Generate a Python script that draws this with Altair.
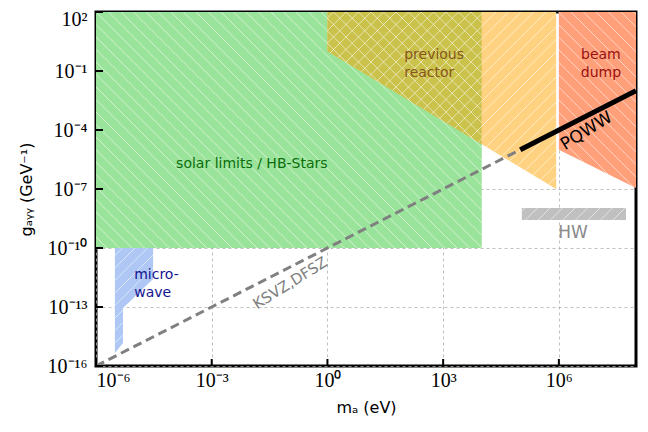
import math
import pandas as pd
import altair as alt

# ---------------- data (log10 units) ----------------
solar_x = [-6, 4]; solar_lo = [-10, -10]; solar_hi = [2, 2]
reactor_x = [0, 5.93]; reactor_lo = [0, -7.0]; reactor_hi = [2, 2]
overlap_x = [0, 4]; overlap_lo = [0, -4.72]; overlap_hi = [2, 2]
beam_x = [6, 8]; beam_lo = [-5.0, -6.95]; beam_hi = [2, 2]
mw_x = [-5.51, -5.30, -5.299, -4.52]; mw_lo = [-15.34, -14.83, -13.05, -11.57]; mw_hi = [-10, -10, -10, -10]
hw_x = [5.04, 7.74]; hw_lo = [-8.57, -8.57]; hw_hi = [-7.96, -7.96]

ksvz_m = [1e-6, 1e5]; ksvz_g = [1e-16, 1e-5]
pqww_m = [1e5, 1e8]; pqww_g = [1e-5, 1e-2]

x_ticks = [-6, -3, 0, 3, 6]
y_ticks = [2, -1, -4, -7, -10, -13, -16]

labels = [
    # text, logx, logy, color, size, angle, align
    ("solar limits / HB-Stars", -1.96, -5.73, "#0b6e0b", 14, 0, "center"),
    ("previous\nreactor", 1.99, -0.19, "#86561a", 14, 0, "left"),
    ("beam\ndump", 7.09, -0.19, "#9a0f0f", 14, 0, "center"),
    ("micro-\nwave", -5.01, -11.35, "#14148f", 14, 0, "left"),
    ("HW", 6.37, -9.24, "#8a8a8a", 17, 0, "center"),
    ("KSVZ,DFSZ", -0.97, -11.78, "#808080", 15, 328, "center"),
    ("PQWW", 6.72, -4.05, "#000000", 17, 328, "center"),
]

# ---------------- geometry helpers ----------------
W, H = 540, 354
XMIN, XMAX, YMIN, YMAX = -6, 8, -16, 2

def to_px(lx, ly):
    return ((lx - XMIN) / (XMAX - XMIN) * W, (YMAX - ly) / (YMAX - YMIN) * H)

def from_px(px, py):
    return (px / W * (XMAX - XMIN) + XMIN, YMAX - py / H * (YMAX - YMIN))

def polygon(xs, lo, hi):
    return [(x, y) for x, y in zip(xs, lo)] + [(x, y) for x, y in zip(xs[::-1], hi[::-1])]

def hatch(xs, lo, hi, kind, step=12.5):
    pts = [to_px(*p) for p in polygon(xs, lo, hi)]
    g = (lambda p: p[0] - p[1]) if kind == "\\" else (lambda p: p[0] + p[1])
    vals = [g(p) for p in pts]
    n = len(pts)
    rows = []
    c = math.floor(min(vals) / step) * step
    while c <= max(vals):
        inter = []
        for i in range(n):
            a, b = pts[i], pts[(i + 1) % n]
            fa, fb = vals[i] - c, vals[(i + 1) % n] - c
            if (fa < 0) != (fb < 0):
                t = fa / (fa - fb)
                inter.append((a[0] + t * (b[0] - a[0]), a[1] + t * (b[1] - a[1])))
        inter.sort()
        for j in range(0, len(inter) - 1, 2):
            (x1, y1), (x2, y2) = inter[j], inter[j + 1]
            lx1, ly1 = from_px(x1, y1)
            lx2, ly2 = from_px(x2, y2)
            rows.append({"x": 10 ** lx1, "y": 10 ** ly1, "x2": 10 ** lx2, "y2": 10 ** ly2})
        c += step
    return pd.DataFrame(rows)

xscale = alt.Scale(type="log", domain=[1e-6, 1e8], nice=False)
yscale = alt.Scale(type="log", domain=[1e-16, 1e2], nice=False)

sup = str.maketrans("-0123456789", "⁻⁰¹²³⁴⁵⁶⁷⁸⁹")
def label_expr(ticks):
    ts = sorted(ticks)
    expr = "'10" + str(ts[-1]).translate(sup) + "'"
    for t in reversed(ts[:-1]):
        expr = f"datum.value < {10 ** (t + 0.5)} ? '10{str(t).translate(sup)}' : " + expr
    return expr

def area(xs, lo, hi, color, first=False):
    df = pd.DataFrame({"m": [10 ** v for v in xs], "lo": [10 ** v for v in lo], "hi": [10 ** v for v in hi]})
    if first:
        xenc = alt.X("m:Q", scale=xscale, title="mₐ (eV)",
                     axis=alt.Axis(values=[10 ** t for t in x_ticks], labelExpr=label_expr(x_ticks)))
        yenc = alt.Y("lo:Q", scale=yscale, stack=None, title="gₐᵧᵧ (GeV⁻¹)",
                     axis=alt.Axis(values=[10 ** t for t in y_ticks], labelExpr=label_expr(y_ticks),
                                   labelOffset={"condition": {"test": "datum.value > 10", "value": 7}, "value": 0},
                                   titleX=-70, titleY=177, titleBaseline="middle", titleAlign="center"))
    else:
        xenc = alt.X("m:Q", scale=xscale)
        yenc = alt.Y("lo:Q", scale=yscale, stack=None)
    return alt.Chart(df).mark_area(color=color, opacity=1, clip=True).encode(x=xenc, y=yenc, y2="hi:Q")

def hatch_layer(xs, lo, hi, kind):
    df = hatch(xs, lo, hi, kind)
    return alt.Chart(df).mark_rule(color="white", strokeWidth=1, opacity=0.55, clip=True).encode(
        x=alt.X("x:Q", scale=xscale), y=alt.Y("y:Q", scale=yscale), x2="x2:Q", y2="y2:Q")

layers = [
    area(solar_x, solar_lo, solar_hi, "#99e39a", first=True),
    area(reactor_x, reactor_lo, reactor_hi, "#ffd281"),
    area(overlap_x, overlap_lo, overlap_hi, "#cbc24b"),
    area(beam_x, beam_lo, beam_hi, "#ffa07a"),
    area(mw_x, mw_lo, mw_hi, "#aec7f5"),
    area(hw_x, hw_lo, hw_hi, "#c0c0c0"),
    hatch_layer(solar_x, solar_lo, solar_hi, "\\"),
    hatch_layer(reactor_x, reactor_lo, reactor_hi, "/"),
    hatch_layer(beam_x, beam_lo, beam_hi, "\\"),
    hatch_layer(mw_x, mw_lo, mw_hi, "/"),
    hatch_layer(hw_x, hw_lo, hw_hi, "/"),
]

ksvz = pd.DataFrame({"m": ksvz_m, "g": ksvz_g})
layers.append(alt.Chart(ksvz).mark_line(color="#808080", strokeWidth=3, strokeDash=[9, 5], clip=True).encode(
    x=alt.X("m:Q", scale=xscale), y=alt.Y("g:Q", scale=yscale)))
pqww = pd.DataFrame({"m": pqww_m, "g": pqww_g})
layers.append(alt.Chart(pqww).mark_line(color="black", strokeWidth=5, clip=True).encode(
    x=alt.X("m:Q", scale=xscale), y=alt.Y("g:Q", scale=yscale)))

for text, lx, ly, color, size, angle, align in labels:
    df = pd.DataFrame({"m": [10 ** lx], "g": [10 ** ly], "t": [text]})
    layers.append(alt.Chart(df).mark_text(color=color, fontSize=size, angle=angle, align=align,
                                          baseline="middle", lineBreak="\n", font="DejaVu Sans",
                                          lineHeight=size * 1.3).encode(
        x=alt.X("m:Q", scale=xscale), y=alt.Y("g:Q", scale=yscale), text="t:N"))

# inward ticks
bt = pd.DataFrame({"v": [10 ** t for t in x_ticks]})
layers.append(alt.Chart(bt).mark_rule(color="black", strokeWidth=2).encode(
    x=alt.X("v:Q", scale=xscale), y=alt.value(H), y2=alt.value(H - 7)))
lt = pd.DataFrame({"v": [10 ** t for t in y_ticks]})
layers.append(alt.Chart(lt).mark_rule(color="black", strokeWidth=2).encode(
    y=alt.Y("v:Q", scale=yscale), x=alt.value(0), x2=alt.value(7)))

chart = alt.layer(*layers).properties(
    width=W, height=H,
    autosize=alt.AutoSizeParams(type="none"),
    padding={"left": 88, "top": 4, "right": 4, "bottom": 58},
).configure_view(stroke="black", strokeWidth=3).configure_axis(
    labelFont="Liberation Serif", labelFontSize=20, labelColor="black",
    ticks=False, domain=False, grid=True, gridColor="#b0b0b0", gridDash=[3, 3], gridWidth=0.8,
    zindex=1, titleFont="DejaVu Sans", titleFontSize=16, titleFontWeight="normal", titleColor="black",
).configure_axisX(labelPadding=4, titlePadding=9).configure_axisY(labelPadding=9)

chart.save("out.html", embed_options={"renderer": "svg", "actions": False})
